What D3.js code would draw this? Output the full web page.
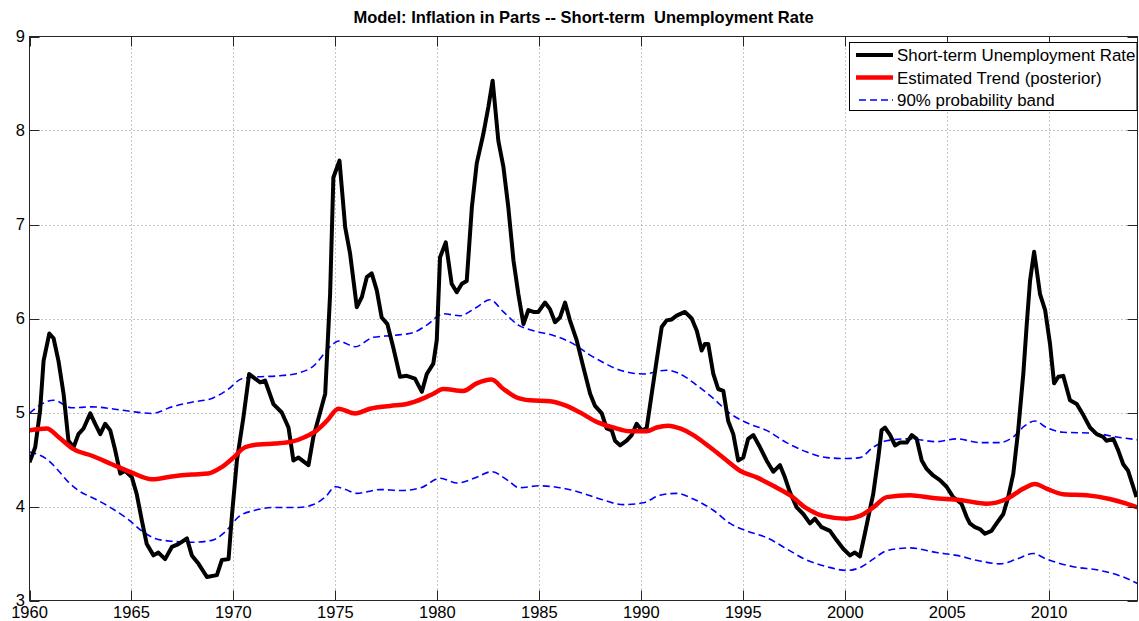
<!DOCTYPE html>
<html><head><meta charset="utf-8">
<script src="https://cdn.jsdelivr.net/npm/d3@7"></script>
<style>
html,body{margin:0;padding:0;background:#fff;}
svg{display:block;font-family:Arial,"Liberation Sans",Helvetica,sans-serif;}
</style></head>
<body><svg id="chart" width="1139" height="621"></svg>
<script>
const titleText = "Model: Inflation in Parts -- Short-term  Unemployment Rate";
const legendLabels = ["Short-term Unemployment Rate", "Estimated Trend (posterior)", "90% probability band"];
const xTicks = [1960,1965,1970,1975,1980,1985,1990,1995,2000,2005,2010];
const yTicks = [3,4,5,6,7,8,9];

const obsYears = [1960.00,1960.28,1960.52,1960.69,1960.97,1961.18,1961.42,1961.67,1961.91,1962.16,1962.40,1962.65,1962.98,1963.22,1963.47,1963.71,1963.96,1964.20,1964.45,1964.69,1965.02,1965.26,1965.51,1965.75,1966.08,1966.32,1966.65,1966.98,1967.30,1967.72,1967.96,1968.29,1968.70,1969.19,1969.43,1969.76,1969.92,1970.17,1970.49,1970.77,1971.06,1971.31,1971.55,1971.96,1972.37,1972.70,1972.94,1973.19,1973.68,1973.92,1974.50,1974.74,1974.90,1975.20,1975.48,1975.72,1976.05,1976.30,1976.54,1976.78,1977.03,1977.27,1977.55,1977.84,1978.17,1978.50,1978.90,1979.24,1979.48,1979.80,1979.97,1980.13,1980.41,1980.70,1980.95,1981.20,1981.44,1981.69,1981.93,1982.25,1982.50,1982.71,1982.99,1983.24,1983.48,1983.73,1983.97,1984.22,1984.46,1984.71,1984.95,1985.28,1985.52,1985.77,1986.01,1986.26,1986.50,1986.83,1987.16,1987.49,1987.73,1988.06,1988.30,1988.55,1988.71,1988.96,1989.28,1989.53,1989.77,1990.02,1990.26,1990.51,1990.75,1991.00,1991.24,1991.49,1991.73,1992.14,1992.47,1992.72,1992.96,1993.12,1993.28,1993.53,1993.77,1994.02,1994.26,1994.51,1994.75,1995.00,1995.24,1995.49,1995.82,1996.14,1996.47,1996.80,1997.04,1997.29,1997.62,1997.94,1998.27,1998.51,1998.84,1999.25,1999.58,1999.90,2000.23,2000.47,2000.72,2000.96,2001.20,2001.37,2001.62,2001.78,2001.95,2002.20,2002.44,2002.69,2003.01,2003.26,2003.50,2003.75,2003.99,2004.31,2004.64,2004.97,2005.29,2005.70,2005.95,2006.11,2006.36,2006.60,2006.85,2007.17,2007.42,2007.75,2007.99,2008.24,2008.48,2008.73,2008.90,2009.06,2009.26,2009.39,2009.55,2009.80,2010.04,2010.24,2010.45,2010.69,2011.02,2011.35,2011.68,2012.00,2012.33,2012.65,2012.81,2013.14,2013.38,2013.63,2013.87,2014.12,2014.28];
const obsValues = [4.47,4.63,5.02,5.55,5.84,5.79,5.55,5.20,4.70,4.63,4.77,4.83,4.99,4.88,4.77,4.88,4.81,4.60,4.35,4.38,4.31,4.13,3.85,3.60,3.48,3.51,3.44,3.57,3.60,3.66,3.48,3.39,3.25,3.27,3.43,3.44,3.89,4.49,4.95,5.41,5.36,5.32,5.34,5.09,5.00,4.84,4.49,4.52,4.44,4.74,5.20,6.26,7.50,7.68,6.97,6.69,6.12,6.23,6.44,6.48,6.30,6.01,5.94,5.69,5.38,5.39,5.36,5.22,5.41,5.52,5.77,6.65,6.81,6.37,6.28,6.37,6.40,7.18,7.65,7.96,8.25,8.53,7.89,7.61,7.18,6.62,6.26,5.94,6.09,6.07,6.07,6.17,6.10,5.96,6.01,6.17,5.98,5.77,5.48,5.20,5.07,4.99,4.83,4.81,4.70,4.65,4.70,4.76,4.88,4.81,4.83,5.20,5.55,5.91,5.98,5.99,6.03,6.07,6.00,5.87,5.66,5.73,5.73,5.41,5.25,5.23,4.91,4.77,4.49,4.52,4.72,4.76,4.63,4.49,4.37,4.44,4.31,4.15,3.99,3.92,3.82,3.87,3.78,3.74,3.64,3.55,3.48,3.51,3.47,3.71,3.96,4.13,4.52,4.81,4.84,4.76,4.65,4.68,4.68,4.76,4.72,4.49,4.40,4.33,4.28,4.21,4.10,4.03,3.89,3.82,3.78,3.76,3.71,3.74,3.82,3.92,4.10,4.35,4.81,5.41,5.94,6.40,6.71,6.51,6.26,6.09,5.73,5.31,5.38,5.39,5.13,5.09,4.97,4.84,4.77,4.74,4.70,4.72,4.60,4.45,4.38,4.21,4.10];

const trendYears = [1960.00,1960.85,1961.42,1962.16,1963.06,1964.04,1965.02,1966.00,1966.98,1967.96,1968.77,1969.43,1970.00,1970.57,1971.23,1972.04,1972.86,1973.51,1974.09,1974.58,1975.15,1975.97,1976.70,1977.68,1978.50,1979.31,1979.80,1980.29,1981.27,1981.93,1982.66,1983.24,1983.89,1984.54,1985.52,1986.34,1987.00,1987.81,1988.63,1989.45,1990.26,1990.75,1991.32,1991.90,1992.55,1993.37,1994.19,1994.84,1995.66,1996.47,1997.29,1998.11,1998.92,2000.07,2000.72,2001.37,2002.03,2003.17,2004.31,2005.62,2006.93,2007.91,2008.73,2009.30,2009.87,2010.69,2011.83,2012.97,2013.79,2014.33];
const trendValues = [4.81,4.83,4.74,4.61,4.54,4.45,4.36,4.29,4.32,4.34,4.35,4.42,4.52,4.63,4.66,4.67,4.69,4.74,4.81,4.91,5.04,4.99,5.04,5.07,5.09,5.15,5.20,5.25,5.23,5.31,5.35,5.25,5.16,5.13,5.12,5.07,5.00,4.90,4.84,4.80,4.80,4.84,4.86,4.83,4.76,4.63,4.49,4.38,4.31,4.22,4.12,3.98,3.90,3.87,3.90,3.99,4.10,4.12,4.09,4.07,4.03,4.08,4.19,4.24,4.19,4.13,4.12,4.08,4.03,3.99];

const upperYears = [1960.00,1960.60,1961.18,1962.08,1963.06,1964.04,1965.02,1966.00,1966.98,1967.96,1968.94,1969.76,1970.41,1971.23,1972.21,1973.19,1973.84,1974.90,1975.15,1975.97,1976.86,1977.84,1978.82,1979.48,1980.29,1981.10,1981.93,1982.58,1983.24,1983.97,1984.71,1985.69,1986.67,1987.49,1987.98,1988.96,1990.10,1991.24,1991.90,1992.72,1993.53,1994.35,1995.17,1996.14,1997.12,1998.11,1999.09,2000.07,2000.72,2001.37,2002.03,2003.17,2004.48,2005.46,2006.60,2007.58,2008.24,2008.81,2009.30,2009.87,2010.69,2012.16,2013.30,2014.33];
const upperValues = [4.99,5.09,5.13,5.05,5.06,5.04,5.01,4.99,5.06,5.11,5.15,5.25,5.36,5.38,5.39,5.42,5.48,5.73,5.76,5.70,5.80,5.82,5.85,5.93,6.05,6.03,6.12,6.20,6.07,5.93,5.87,5.82,5.73,5.61,5.55,5.45,5.41,5.45,5.41,5.29,5.15,4.99,4.89,4.81,4.68,4.58,4.52,4.51,4.52,4.63,4.70,4.72,4.69,4.72,4.68,4.68,4.74,4.86,4.91,4.84,4.79,4.78,4.74,4.71];

const lowerYears = [1960.00,1960.93,1961.42,1961.91,1962.40,1963.22,1964.04,1964.85,1965.51,1966.16,1966.98,1967.96,1968.94,1969.59,1970.25,1971.06,1972.04,1973.19,1973.92,1974.50,1975.00,1975.50,1976.05,1977.19,1978.20,1979.20,1980.13,1981.00,1981.80,1982.66,1983.50,1984.00,1985.00,1986.00,1987.00,1987.98,1989.12,1990.10,1990.92,1991.73,1992.55,1993.53,1994.35,1995.17,1996.14,1997.12,1998.11,1999.09,2000.07,2000.72,2001.37,2002.03,2003.17,2004.48,2005.46,2006.60,2007.58,2008.40,2009.22,2009.87,2011.18,2012.49,2013.63,2014.33];
const lowerValues = [4.58,4.49,4.38,4.26,4.17,4.08,3.98,3.86,3.74,3.66,3.63,3.62,3.64,3.73,3.89,3.96,3.99,3.99,4.02,4.10,4.21,4.18,4.14,4.18,4.17,4.20,4.30,4.25,4.30,4.37,4.27,4.20,4.22,4.20,4.15,4.08,4.02,4.04,4.12,4.14,4.08,3.96,3.82,3.74,3.67,3.55,3.43,3.36,3.32,3.35,3.44,3.53,3.56,3.51,3.48,3.42,3.39,3.44,3.50,3.44,3.36,3.32,3.25,3.18];

const svg = d3.select("#chart");
const L = 29.5, R = 1137.5, T = 36.5, B = 600.5;
const x = d3.scaleLinear().domain([1960, 2014.33]).range([L, R]);
const y = d3.scaleLinear().domain([3, 9]).range([B, T]);

// grid
const grid = svg.append("g");
grid.selectAll(".gx").data(xTicks.slice(1)).enter().append("line")
  .attr("x1", d => Math.round(x(d)) + 0.5).attr("x2", d => Math.round(x(d)) + 0.5)
  .attr("y1", T).attr("y2", B)
  .attr("stroke", "#8c8c8c").attr("stroke-width", 1).attr("stroke-dasharray", "1,3");
grid.selectAll(".gy").data(yTicks.slice(1, -1)).enter().append("line")
  .attr("y1", d => Math.round(y(d)) + 0.5).attr("y2", d => Math.round(y(d)) + 0.5)
  .attr("x1", L).attr("x2", R)
  .attr("stroke", "#8c8c8c").attr("stroke-width", 1).attr("stroke-dasharray", "1,3");

// data lines
const mk = (ys, vs) => ys.map((d, i) => [d, vs[i]]);
svg.append("clipPath").attr("id", "clip").append("rect")
  .attr("x", L).attr("y", T - 10).attr("width", R - L).attr("height", B - T + 10);
const plot = svg.append("g").attr("clip-path", "url(#clip)");
const smooth = d3.line().x(d => x(d[0])).y(d => y(d[1])).curve(d3.curveMonotoneX);
const straight = d3.line().x(d => x(d[0])).y(d => y(d[1]));

plot.append("path").datum(mk(upperYears, upperValues)).attr("d", smooth)
  .attr("fill", "none").attr("stroke", "#0000ff").attr("stroke-width", 1.6).attr("stroke-dasharray", "7,4");
plot.append("path").datum(mk(lowerYears, lowerValues)).attr("d", smooth)
  .attr("fill", "none").attr("stroke", "#0000ff").attr("stroke-width", 1.6).attr("stroke-dasharray", "7,4");
plot.append("path").datum(mk(obsYears, obsValues)).attr("d", straight)
  .attr("fill", "none").attr("stroke", "#000").attr("stroke-width", 4).attr("stroke-linejoin", "round");
plot.append("path").datum(mk(trendYears, trendValues)).attr("d", smooth)
  .attr("fill", "none").attr("stroke", "#ff0000").attr("stroke-width", 4.5).attr("stroke-linejoin", "round");

// axes (MATLAB style, inward ticks on all sides)
const axColor = "#262626";
const tickLen = 10;
const axg = svg.append("g");
axg.append("rect").attr("x", L).attr("y", T).attr("width", R - L).attr("height", B - T)
  .attr("fill", "none").attr("stroke", axColor).attr("stroke-width", 1);
xTicks.forEach(d => {
  const px = Math.round(x(d)) + 0.5;
  axg.append("line").attr("x1", px).attr("x2", px).attr("y1", B).attr("y2", B - tickLen).attr("stroke", axColor);
  axg.append("line").attr("x1", px).attr("x2", px).attr("y1", T).attr("y2", T + tickLen).attr("stroke", axColor);
});
yTicks.forEach(d => {
  const py = Math.round(y(d)) + 0.5;
  axg.append("line").attr("x1", L).attr("x2", L + tickLen).attr("y1", py).attr("y2", py).attr("stroke", axColor);
  axg.append("line").attr("x1", R).attr("x2", R - tickLen).attr("y1", py).attr("y2", py).attr("stroke", axColor);
});
svg.append("g").selectAll("text").data(xTicks).enter().append("text")
  .attr("x", d => x(d)).attr("y", 618).attr("text-anchor", "middle")
  .attr("font-size", "16.5px").attr("fill", "#000").text(d => d);
svg.append("g").selectAll("text").data(yTicks).enter().append("text")
  .attr("x", 25).attr("y", d => y(d)).attr("dy", "0.36em").attr("text-anchor", "end")
  .attr("font-size", "16.5px").attr("fill", "#000").text(d => d);

// title
svg.append("text").attr("x", (L + R) / 2).attr("y", 23).attr("text-anchor", "middle")
  .attr("font-size", "16.5px").attr("font-weight", "bold").attr("fill", "#000")
  .style("white-space", "pre").attr("xml:space", "preserve").text(titleText);

// legend
const lg = svg.append("g");
lg.append("rect").attr("x", 849.5).attr("y", 42.5).attr("width", 1137 - 849.5).attr("height", 68)
  .attr("fill", "#fff").attr("stroke", "#000").attr("stroke-width", 1);
const rowsY = [55, 77.5, 100];
const styles = [
  {c: "#000", w: 4, dash: null},
  {c: "#ff0000", w: 4.5, dash: null},
  {c: "#0000ff", w: 1.6, dash: "7,4"}
];
legendLabels.forEach((t, i) => {
  const ln = lg.append("line").attr("x1", 856).attr("x2", 893).attr("y1", rowsY[i]).attr("y2", rowsY[i])
    .attr("stroke", styles[i].c).attr("stroke-width", styles[i].w);
  if (styles[i].dash) ln.attr("stroke-dasharray", styles[i].dash).attr("x1", 859);
  lg.append("text").attr("x", 897).attr("y", rowsY[i]).attr("dy", "0.36em")
    .attr("font-size", "16.9px").attr("fill", "#000").text(t);
});
</script></body></html>
